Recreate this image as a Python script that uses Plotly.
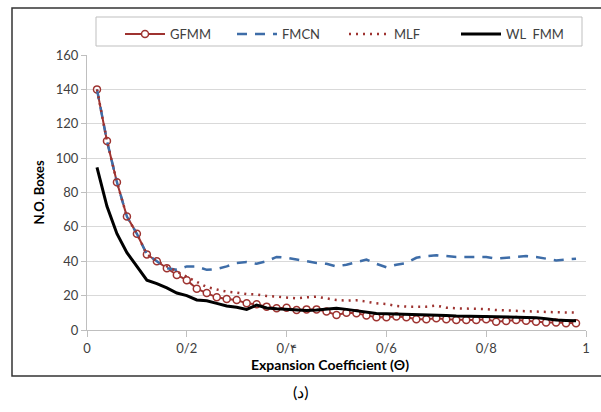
import plotly.graph_objects as go

theta = [0.02, 0.04, 0.06, 0.08, 0.10, 0.12, 0.14, 0.16, 0.18, 0.20,
         0.22, 0.24, 0.26, 0.28, 0.30, 0.32, 0.34, 0.36, 0.38, 0.40,
         0.42, 0.44, 0.46, 0.48, 0.50, 0.52, 0.54, 0.56, 0.58, 0.60,
         0.62, 0.64, 0.66, 0.68, 0.70, 0.72, 0.74, 0.76, 0.78, 0.80,
         0.82, 0.84, 0.86, 0.88, 0.90, 0.92, 0.94, 0.96, 0.98]

gfmm = [140, 110, 86, 66, 56, 44, 40, 36, 32, 29,
        24, 21.5, 19, 18, 17.4, 15.5, 15, 13.6, 12.6, 13,
        11.6, 12, 12, 10.7, 8.7, 10, 9.7, 8.5, 7.4, 7.4,
        7.8, 7.4, 6.2, 6.2, 6.8, 6.2, 5.8, 5.8, 5.8, 6.2,
        4.8, 5.2, 5.8, 5.4, 4.8, 4.3, 4.3, 3.9, 3.9]

fmcn = [140, 110, 86, 66, 56, 44, 40, 36, 35, 37,
        37, 35, 35.5, 37, 39, 39.5, 38.5, 40, 42.5, 42,
        41, 40, 39, 38.5, 37, 38, 39.5, 41, 38.5, 36.5,
        38, 39, 42, 43, 43.5, 43, 42.5, 42.5, 42.5, 42.5,
        41.5, 42, 42.5, 43, 42.5, 41.5, 40.5, 41, 41.5]

mlf = [140, 110, 86, 66, 56, 44, 40, 37, 34, 31,
       28, 25, 23.6, 22.3, 21.7, 20.9, 20.7, 19.8, 19.4, 19,
       18.4, 19, 19.4, 18.4, 17.4, 17.1, 17.3, 16.5, 15.5, 15.1,
       14, 13.6, 13.6, 13.6, 14.2, 13, 12.6, 12.6, 12.6, 12.2,
       11.6, 11.3, 11.1, 11.1, 10.7, 10.5, 10.3, 10.3, 10.1]

wl_fmm = [94.6, 72, 56, 45, 37, 29, 27, 24.5, 21.5, 20,
          17.5, 17, 15.5, 14, 13.2, 12, 14.5, 12.8, 12.3, 12,
          11.5, 11.3, 11.6, 12, 12.6, 12, 11.2, 10.2, 9.6, 9.5,
          9.4, 9.3, 9, 8.8, 8.8, 8.5, 8.2, 8.1, 8, 7.8,
          7.5, 7.4, 7.4, 7.4, 7.2, 6.5, 5.8, 5.6, 5.4]

x_tickvals = [0, 0.2, 0.4, 0.6, 0.8, 1]
x_ticktext = ["0", "0/2", "0/\u06f4", "0/6", "0/8", "1"]
y_tickvals = [0, 20, 40, 60, 80, 100, 120, 140, 160]

FONT = "Lato, 'Open Sans', sans-serif"
RED = "#9E3330"
BLUE = "#3E6DA8"

PW, PH, L, T = 499, 275, 87, 55


def px(x):
    return (x - L) / PW


def py(y):
    return (T + PH - y) / PH


fig = go.Figure()
fig.add_trace(go.Scatter(x=theta, y=gfmm, name="GFMM", mode="lines+markers",
                         line=dict(color=RED, width=2),
                         marker=dict(symbol="circle", size=7, color="white",
                                     line=dict(color=RED, width=1.5))))
fig.add_trace(go.Scatter(x=theta, y=fmcn, name="FMCN", mode="lines",
                         line=dict(color=BLUE, width=2.5, dash="10px,8px")))
fig.add_trace(go.Scatter(x=theta, y=mlf, name="MLF", mode="lines",
                         line=dict(color=RED, width=2.5, dash="2px,5px")))
fig.add_trace(go.Scatter(x=theta, y=wl_fmm, name="WL  FMM", mode="lines",
                         line=dict(color="black", width=3)))

fig.update_layout(
    width=601, height=412,
    margin=dict(l=87, r=15, t=55, b=82),
    paper_bgcolor="white", plot_bgcolor="white",
    font=dict(family=FONT, size=13, color="#404040"),
    showlegend=True,
    legend=dict(orientation="h", x=px(120), y=py(19), xanchor="left", yanchor="top",
                borderwidth=0, bgcolor="rgba(0,0,0,0)", entrywidth=57,
                font=dict(size=13, color="#404040"), tracegroupgap=0,
                itemwidth=40),
    xaxis=dict(range=[0, 1], tickvals=x_tickvals, ticktext=x_ticktext,
               showgrid=False, zeroline=False, showline=True, linecolor="#BFBFBF",
               ticks="outside", ticklen=6, tickcolor="#BFBFBF",
               tickfont=dict(size=13, color="#404040")),
    yaxis=dict(range=[0, 160], tickvals=y_tickvals, showgrid=True, gridcolor="#D9D9D9",
               zeroline=False, showline=True, linecolor="#BFBFBF",
               ticks="outside", ticklen=5, tickcolor="#BFBFBF",
               tickfont=dict(size=13, color="#404040")),
    shapes=[
        dict(type="rect", xref="paper", yref="paper", x0=px(12), x1=px(606),
             y0=py(376), y1=py(8), line=dict(color="#333333", width=1.5),
             fillcolor="rgba(0,0,0,0)", layer="below"),
        dict(type="rect", xref="paper", yref="paper", x0=px(96), x1=px(582),
             y0=py(46), y1=py(17), line=dict(color="#BFBFBF", width=1),
             fillcolor="white", layer="below"),
    ],
    annotations=[
        dict(text="<b>N.O. Boxes</b>", xref="paper", yref="paper",
             x=px(38), y=0.5, textangle=-90, showarrow=False,
             xanchor="center", yanchor="middle",
             font=dict(size=13, color="black")),
        dict(text="<b>Expansion Coefficient (\u0398)</b>", xref="paper", yref="paper",
             x=px(330), y=py(364), showarrow=False,
             xanchor="center", yanchor="middle",
             font=dict(size=14, color="black")),
        dict(text="(\u062f)", xref="paper", yref="paper",
             x=px(301), y=py(391), showarrow=False,
             xanchor="center", yanchor="middle",
             font=dict(size=16, color="black")),
    ],
)

fig.write_html("out.html")
